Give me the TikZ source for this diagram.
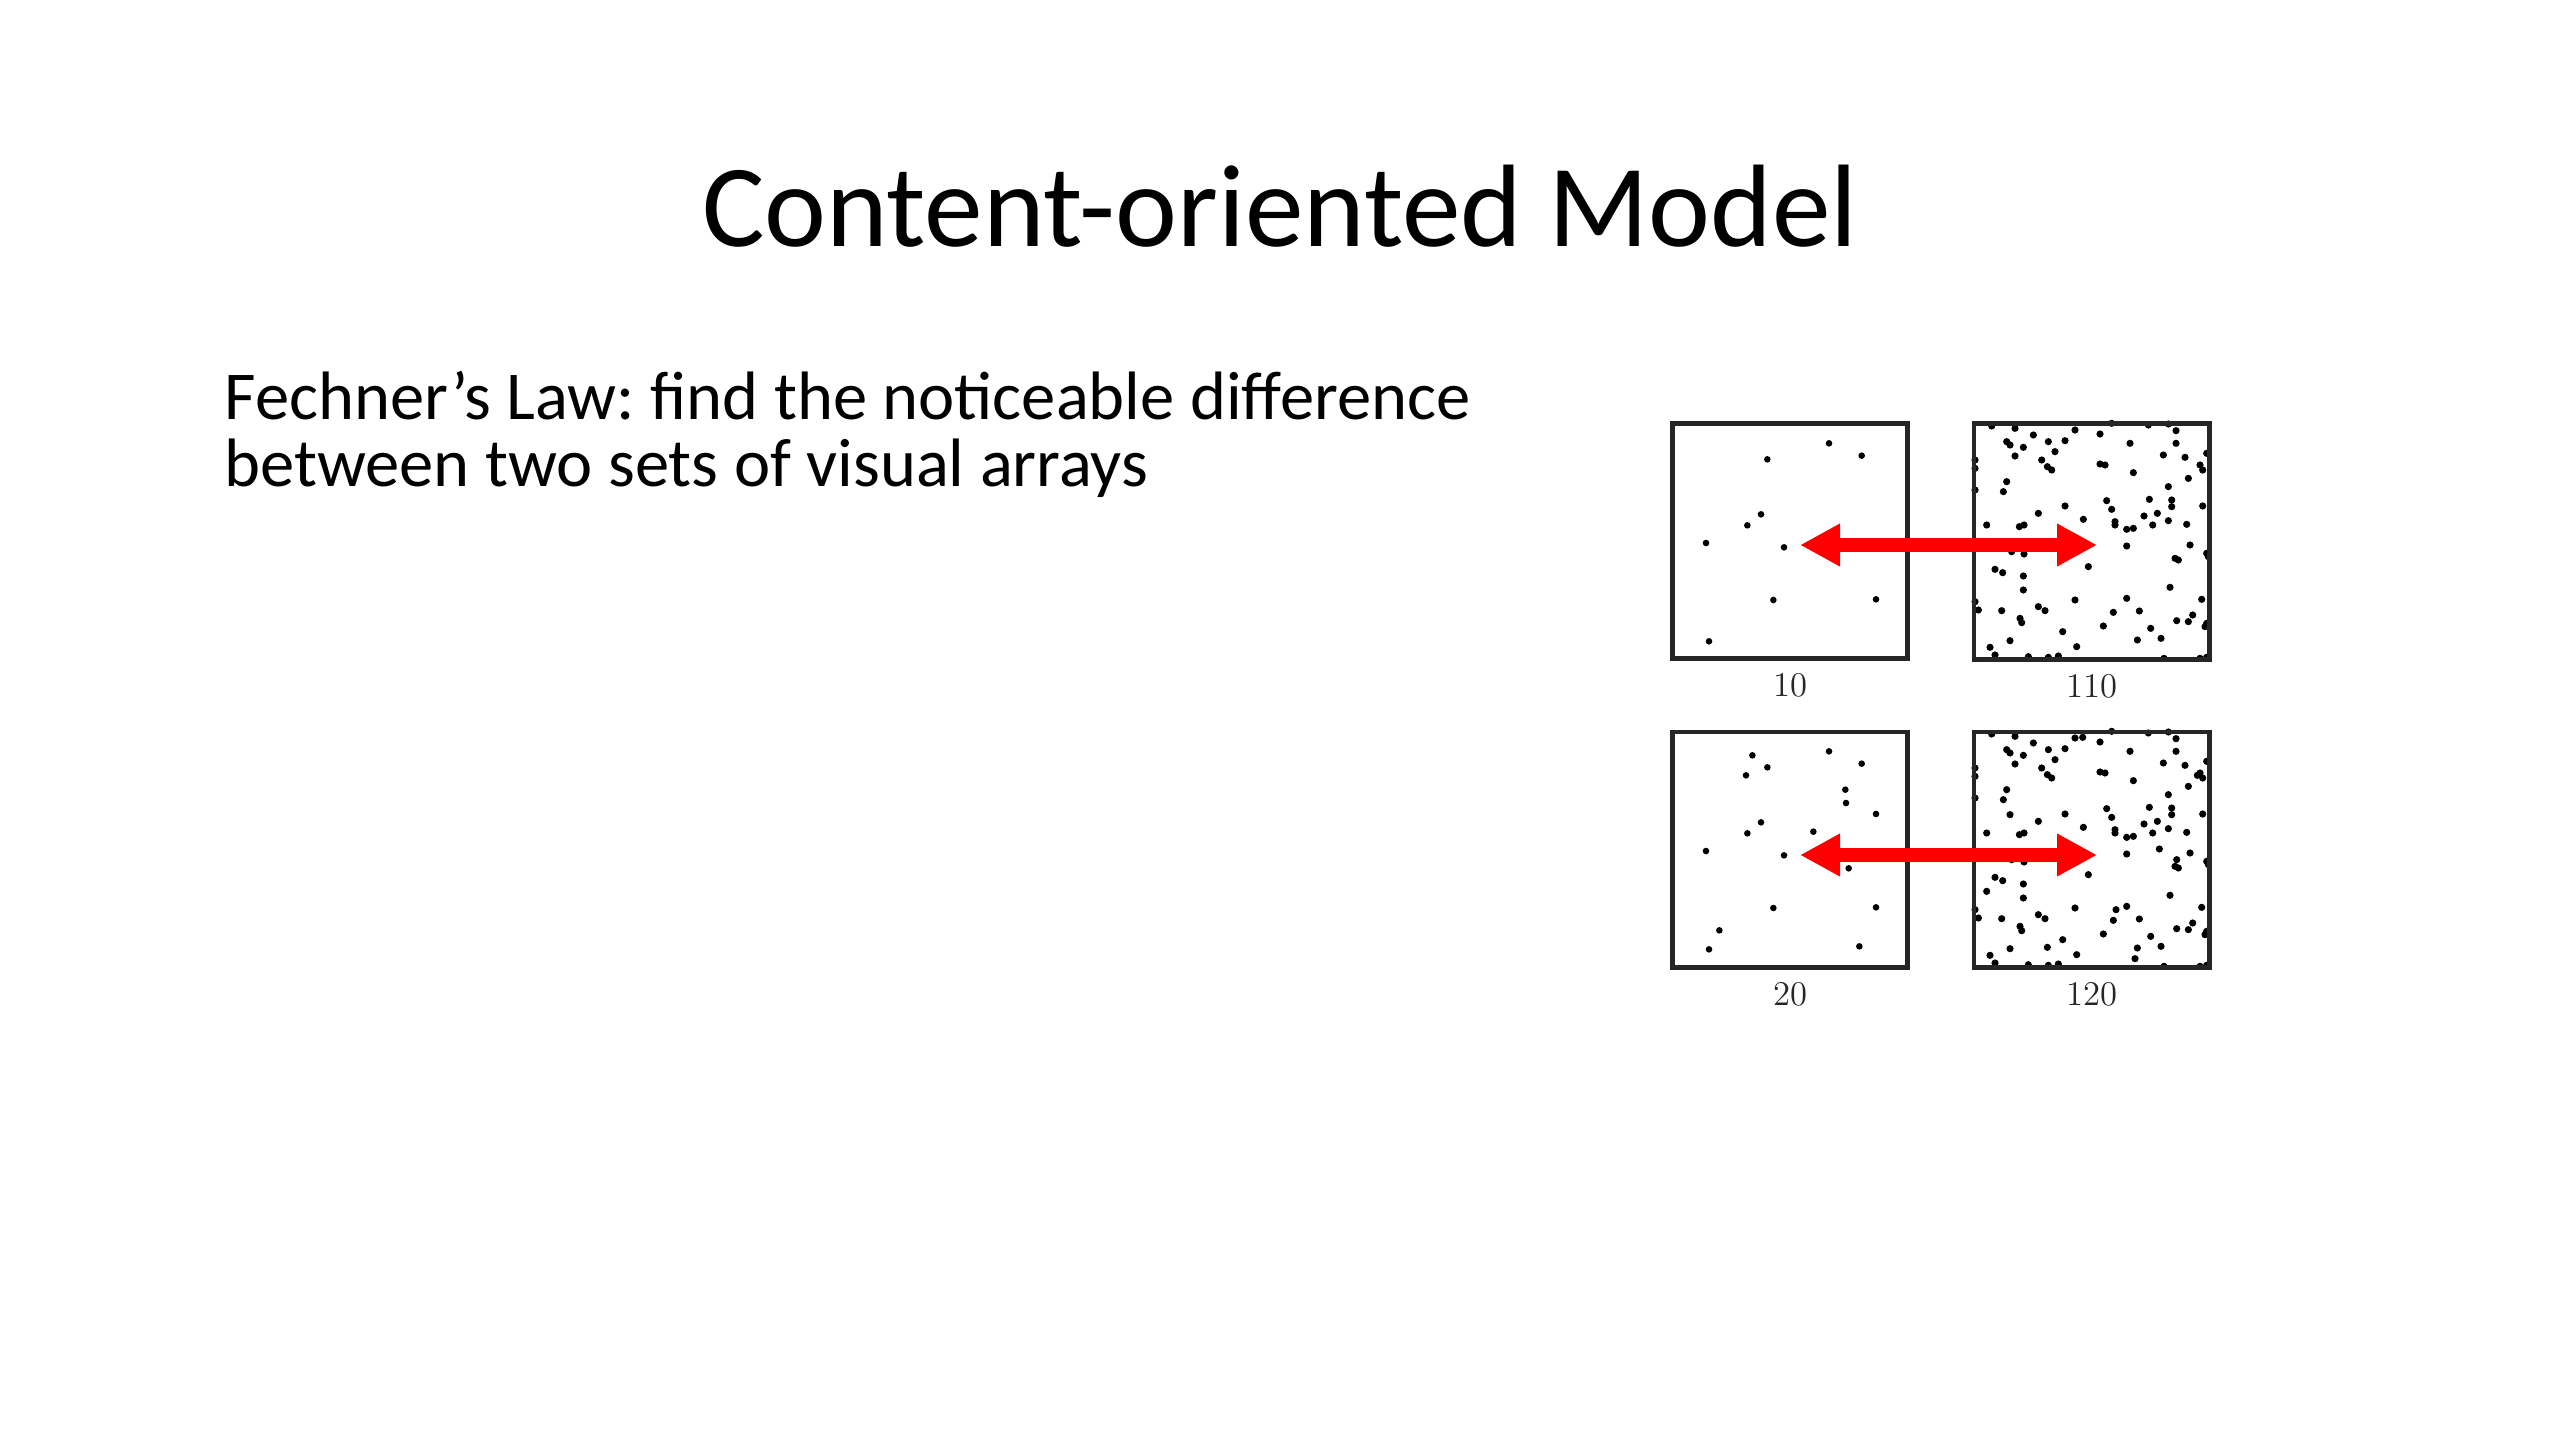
\documentclass[tikz,border=0pt]{standalone}
\usepackage{fontspec}
\usepackage{tikz}
\usetikzlibrary{positioning,arrows.meta}
\newfontfamily\slidefont{Carlito}
\frenchspacing

\begin{document}
\begin{tikzpicture}[x=0.375pt,y=0.375pt,yscale=-1,xscale=1,
  dotbox/.style={draw=black!85,line width=1.7pt,minimum size=88.3pt,inner sep=0pt},
  countlabel/.style={inner sep=0pt,text=black!85,font=\fontsize{13}{13}\selectfont},
  bigarrow/.style={draw={rgb,255:red,255;green,0;blue,0},line width=5.6pt,{Triangle[length=15pt,width=15pt]}-{Triangle[length=15pt,width=15pt]}}]
%set diagram left start at 0, slide of 2560 x 1440
\fill[white] (0,0) rectangle (2560,1440);
\useasboundingbox (0,0) rectangle (2560,1440);

%Text: title
\node[anchor=base,inner sep=0pt,font=\slidefont\fontsize{44}{50}\selectfont] (title) at (1280,247) {Content-oriented Model};
%Text: body, two lines
\node[anchor=base west,inner sep=0pt,font=\slidefont\fontsize{25.7}{27}\selectfont] (law1) at (224,420) {Fechner’s Law: find the noticeable difference};
\node[anchor=base west,inner sep=0pt,font=\slidefont\fontsize{25.7}{27}\selectfont] (law2) at (224,487) {between two sets of visual arrays};

%Shape: dots, 10
\begin{scope}[shift={(1660,410)}]
\foreach \x/\y in {507/100,605/137,322/148,303/313,262/346,138/399,372/412,340/570,648/568,147/694}
  \fill (\x/3,\y/3) circle (3.3);
\end{scope}
%Shape: dots, 20
\begin{scope}[shift={(1660,718)}]
\foreach \x/\y in {277/112,507/100,605/137,322/148,258/172,556/215,558/255,648/288,303/313,262/346,460/341,138/399,372/412,566/451,340/570,648/568,178/637,147/694,598/685}
  \fill (\x/3,\y/3) circle (3.3);
\end{scope}
%Shape: dots, 110 and 120
\foreach \yo in {410,718}{
\begin{scope}[shift={(1960,\yo)}]
\foreach \x/\y in {95/48,165/55,220/75,345/60,420/72,455/40,565/45,625/42,648/62,
  140/95,150/105,190/112,265/95,315/92,510/100,648/100,
  165/138,285/125,245/150,262/170,275/180,420/162,435/165,610/135,675/142,740/130,
  45/150,45/175,720/165,728/180,520/188,
  140/215,130/245,45/240,625/230,685/205,
  440/272,455/298,568/268,635/270,635/290,728/288,315/288,
  235/310,370/328,465/335,465/345,552/318,592/310,625/332,578/345,500/358,520/355,680/343,
  80/345,178/350,192/345,
  155/425,192/432,500/408,690/405,
  645/445,655/450,740/430,745/440,
  105/478,128/488,385/470,190/498,190/540,
  630/532,500/565,345/570,725/568,
  45/575,55/600,125/602,235/590,255/602,460/607,538/603,
  180/625,185/638,430/648,572/655,650/632,685/635,698/615,740/640,735/650,
  308/665,150/692,532/690,603/685,
  90/712,105/735,350/710,205/740,265/742,295/738,612/745,720/745,740/742}
  \fill (\x/3,\y/3) circle (3.6);
\end{scope}}
%Shape: extra dots of 120
\begin{scope}[shift={(1960,718)}]
\foreach \x/\y in {368/58,150/290,80/520,468/575,598/393,262/688,525/722,712/172,650/425}
  \fill (\x/3,\y/3) circle (3.6);
\end{scope}

%Shape: boxes
\node[dotbox] (b10) at (1790,541) {};
\node[dotbox] (b110) at (2091.5,541.5) {};
\node[dotbox] (b20) at (1790,849.5) {};
\node[dotbox] (b120) at (2091.5,849.5) {};

%Text: counts
\node[countlabel,below=4.5pt of b10] (l10) {10};
\node[countlabel,below=4.5pt of b110] (l110) {110};
\node[countlabel,below=4.5pt of b20] (l20) {20};
\node[countlabel,below=4.5pt of b120] (l120) {120};

%Straight Lines: arrows
\coordinate (p10) at (1800,545);
\coordinate (p110) at (2097,545);
\coordinate (p20) at (1800,855);
\coordinate (p120) at (2097,855);
\draw[bigarrow] (p10) -- (p110);
\draw[bigarrow] (p20) -- (p120);

\end{tikzpicture}
\end{document}
